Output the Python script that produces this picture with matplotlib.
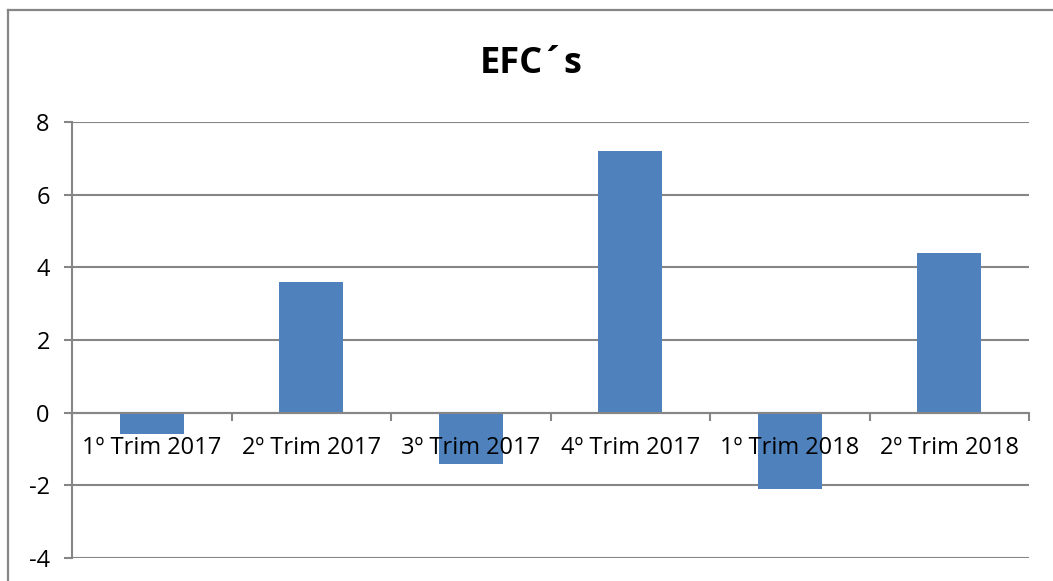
import numpy as np
import matplotlib.pyplot as plt
from matplotlib.lines import Line2D

# data
categories = ['1º Trim 2017', '2º Trim 2017', '3º Trim 2017',
              '4º Trim 2017', '1º Trim 2018', '2º Trim 2018']
values = [-0.6, 3.6, -1.4, 7.2, -2.1, 4.4]
y_ticks = [-4, -2, 0, 2, 4, 6, 8]

plt.rcParams['font.family'] = ['Open Sans', 'DejaVu Sans']
plt.rcParams['axes.unicode_minus'] = False

W, H = 1053, 581
fig = plt.figure(figsize=(W / 100, H / 100), dpi=100)

# outer chart frame (cropped at right and bottom)
grey = '#868686'
fig.add_artist(Line2D([8 / W, 8 / W], [0, 1 - 10 / H], color=grey, lw=1.6,
                      transform=fig.transFigure))
fig.add_artist(Line2D([8 / W, 1], [1 - 10 / H, 1 - 10 / H], color=grey, lw=1.6,
                      transform=fig.transFigure))

left, right = 72 / W, 1029 / W
bottom, top = 1 - 558 / H, 1 - 122 / H
ax = fig.add_axes([left, bottom, right - left, top - bottom])

x = np.arange(len(categories))
ax.bar(x, values, width=0.4, color='#4F81BD', zorder=2)

ax.set_xlim(-0.5, len(categories) - 0.5)
ax.set_ylim(-4, 8)
ax.set_yticks(y_ticks)
ax.set_axisbelow(True)
ax.yaxis.grid(True, color=grey, lw=1.5)
ax.xaxis.set_zorder(4)  # category labels drawn over the bars

for side in ['top', 'right']:
    ax.spines[side].set_visible(False)
ax.spines['left'].set_color(grey)
ax.spines['left'].set_linewidth(1.5)
ax.spines['bottom'].set_position(('data', 0))
ax.spines['bottom'].set_color(grey)
ax.spines['bottom'].set_linewidth(1.5)

# boundaries get tick marks, centres get labels
ax.set_xticks(np.arange(-0.5, len(categories)), labels=[''] * (len(categories) + 1))
ax.set_xticks(x, labels=categories, minor=True)
ax.tick_params(axis='x', which='major', direction='out', length=6, width=1.5, color=grey)
ax.tick_params(axis='x', which='minor', length=0, pad=17, labelsize=17)
ax.tick_params(axis='y', direction='out', length=6, width=1.5, color=grey,
               labelsize=17, pad=10)

fig.text(531 / W, 1 - 64 / H, 'EFC´s', ha='center', va='center',
         fontsize=26, fontweight='bold')

plt.savefig('out.png', dpi=100)
